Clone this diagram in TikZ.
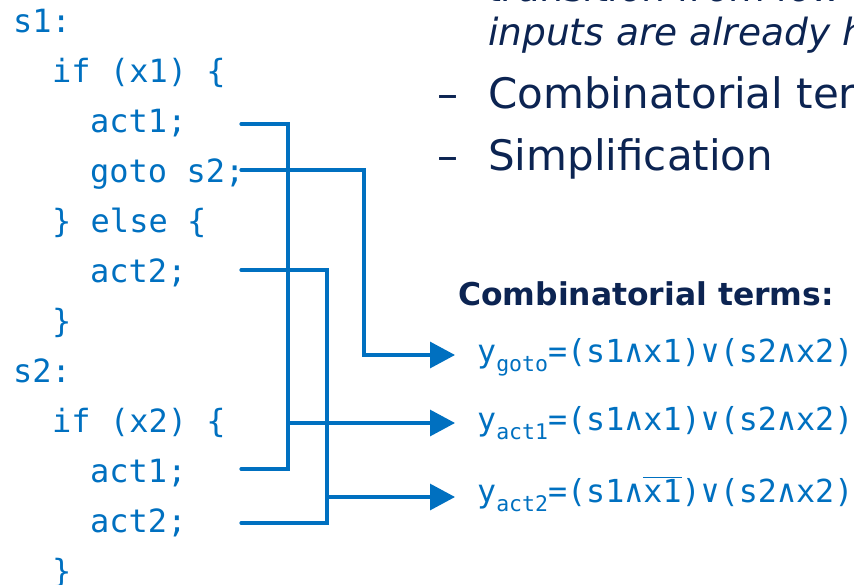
\documentclass[tikz,border=0pt]{standalone}
\usepackage{fontspec}
\setmainfont{DejaVu Sans}
\newfontfamily\codefont{DejaVu Sans Mono}
\usetikzlibrary{arrows.meta}
\definecolor{codeblue}{HTML}{0070C0}
\definecolor{navy}{HTML}{0C2452}
\newcommand{\sbs}[1]{\raisebox{-9pt}{\fontsize{21.5}{22}\selectfont #1}}

\begin{document}
\begin{tikzpicture}[x=1pt,y=-1pt,
  code/.style={anchor=base west, inner sep=0pt, text=codeblue,
    font=\codefont\fontsize{32}{32}\selectfont},
  term/.style={anchor=base west, inner sep=0pt, text=codeblue,
    font=\codefont\fontsize{31.7}{32}\selectfont},
  slide/.style={anchor=base west, inner sep=0pt, text=navy,
    font=\fontsize{42}{42}\selectfont},
  note/.style={anchor=base west, inner sep=0pt, text=navy,
    font=\itshape\fontsize{37.5}{37.5}\selectfont},
  wire/.style={draw=codeblue, line width=3.2pt, line cap=round, line join=miter},
  feed/.style={wire, -{Triangle[length=25pt,width=26pt]}}]
\useasboundingbox (0,0) rectangle (854,584);
\begin{scope}
\clip (0,0) rectangle (854,584);

% slide bullets (upper right)
\node[note] (n1) at (488,1) {transition from low};
\node[note] (n2) at (488,45) {inputs are already high};
\node[slide] (d1) at (437,108) {–};
\node[slide] (b1) at (488,108) {Combinatorial terms};
\node[slide] (d2) at (437,170) {–};
\node[slide] (b2) at (488,170) {Simplification};

% source program
\node[code] (s1)   at (13,32)  {s1:};
\node[code] (if1)  at (52,82)  {if (x1) \{};
\node[code] (c1a)  at (90,132) {act1;};
\node[code] (c1g)  at (90,182) {goto s2;};
\node[code] (el1)  at (52,232) {\} else \{};
\node[code] (c1b)  at (90,282) {act2;};
\node[code] (cl1)  at (52,332) {\}};
\node[code] (s2)   at (13,382) {s2:};
\node[code] (if2)  at (52,432) {if (x2) \{};
\node[code] (c2a)  at (90,482) {act1;};
\node[code] (c2b)  at (90,532) {act2;};
\node[code] (cl2)  at (52,582) {\}};

% combinatorial terms
\node[anchor=base west, inner sep=0pt, text=navy,
  font=\bfseries\fontsize{31.4}{31}\selectfont] (hdr) at (458,305) {Combinatorial terms:};
\node[term] (tg) at (477,362) {y\sbs{goto}=(s1∧x1)∨(s2∧x2)};
\node[term] (ta) at (477,430) {y\sbs{act1}=(s1∧x1)∨(s2∧x2)};
\node[term] (tb) at (477,502) {y\sbs{act2}=(s1∧$\overline{\hbox{x1}}$)∨(s2∧x2)};

% wire ends beside the statements
\coordinate (w1a) at (241,124);
\coordinate (w1g) at (241,170);
\coordinate (w1b) at (241,270);
\coordinate (w2a) at (241,469);
\coordinate (w2b) at (241,523);
% junctions
\coordinate (ja) at (288,423);
\coordinate (jb) at (327,497);
\coordinate (jg) at (364,355);
% arrow tips
\coordinate (pg) at (455,355);
\coordinate (pa) at (455,423);
\coordinate (pb) at (455,497);

\draw[wire] (w1a) -| (ja) |- (w2a);
\draw[wire] (w1b) -| (jb) |- (w2b);
\draw[feed] (w1g) -| (jg) -- (pg);
\draw[feed] (ja) -- (pa);
\draw[feed] (jb) -- (pb);
\end{scope}
\end{tikzpicture}
\end{document}
